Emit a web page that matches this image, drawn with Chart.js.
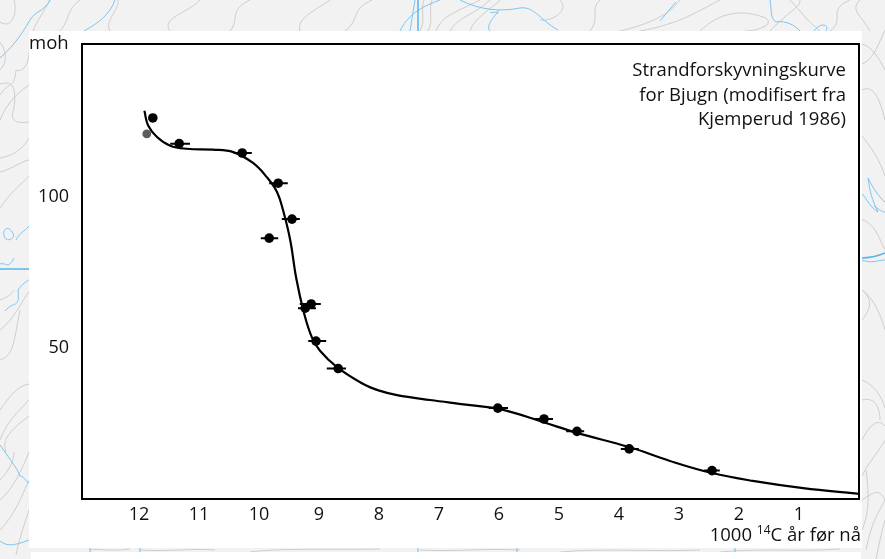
<!DOCTYPE html>
<html>
<head>
<meta charset="utf-8">
<title>Strandforskyvningskurve for Bjugn</title>
<script src="https://cdn.jsdelivr.net/npm/chart.js@4"></script>
<style>
  html, body { margin: 0; padding: 0; background: #f2f2f2; }
  #wrap { position: relative; width: 885px; height: 559px; overflow: hidden; }
  #map { position: absolute; left: 0; top: 0; }
  #panel { position: absolute; left: 29px; top: 31px; width: 833px; height: 517px; background: #fff; }
  #panel2 { position: absolute; left: 31px; top: 552px; width: 830px; height: 7px; background: #fff; }
  #myChart { position: absolute; left: 0; top: 0; }
</style>
</head>
<body>
<div id="wrap">
  <!-- map behind the white panel, only the edges show -->
  <svg id="map" width="885" height="559" fill="none" stroke="#cecece" stroke-width="1">
    <path d="M0 22C12 30 18 12 14 0M36 60C20 40 40 20 50 0M60 31C70 20 66 10 80 0M110 31C104 20 120 10 118 0M170 31C160 18 190 12 200 0M230 31C240 20 228 10 250 0M300 31C296 18 316 10 330 0M345 31C360 20 350 10 372 0"/>
    <path d="M420 31C426 20 420 10 424 0M428 31C434 20 428 10 432 0M436 31C442 16 452 14 480 0M450 31C456 18 476 14 490 0M470 31C474 18 490 10 500 0M540 20C552 22 570 10 560 0M590 31C600 20 590 8 600 0M620 31C650 24 670 14 680 0M640 31C680 24 700 10 720 0M700 31C720 12 740 10 760 16C780 22 760 31 745 31M770 31C790 10 800 8 800 0M820 31C806 20 800 10 790 0M830 31C846 20 826 10 850 0M870 31C860 14 850 10 860 0"/>
    <path d="M0 95C10 80 14 90 16 70C24 74 30 60 29 50M0 120C8 100 22 90 29 85M0 84C14 80 16 88 14 108C10 120 14 124 29 122M0 158C12 156 22 150 29 138M0 172C10 170 24 160 29 160M0 208C14 188 22 184 29 176M0 300C14 294 10 294 14 290M0 330C14 320 22 300 29 292M0 360C14 356 14 340 20 310M0 410C14 390 20 386 29 384M0 440C8 420 16 414 29 400M6 452C2 440 8 432 29 416M0 480C10 470 14 460 14 452M0 500C12 490 22 470 29 452M0 530C14 516 22 496 29 480M16 555C20 535 26 520 29 510M0 70C8 62 6 50 0 42"/>
    <path d="M862 44C872 46 880 60 885 70M862 90C874 84 880 100 885 120M862 136C870 146 880 160 885 176M862 220C874 222 880 240 885 250M862 290C876 300 882 320 885 330M862 320C870 310 874 300 862 290M862 380C876 386 882 398 885 408M862 400C876 396 880 410 880 420M862 440C872 420 880 420 885 426M862 476C870 460 880 450 885 440M862 500C876 490 880 490 885 500M866 550C872 520 880 510 885 500M862 530C868 516 870 500 866 470M862 64C874 60 880 40 885 30M876 559C880 540 882 530 885 520"/>
    <path d="M90 550C96 548 110 552 130 549M140 550C170 552 190 548 215 550M250 552C280 548 320 550 380 549M420 550C460 552 480 548 520 550M560 552C600 548 660 552 700 550M720 552C760 548 800 552 840 549"/>
    <g stroke="#7cc6f2">
      <path d="M0 58C16 44 24 30 30 20C36 10 44 12 50 0M84 31C100 22 110 14 115 0M0 445C12 462 18 470 20 476C24 476 26 482 29 483M0 541C8 548 18 544 29 540M16 240C20 232 24 232 29 226M4 236C2 228 10 224 14 236C12 240 6 242 4 236M5 311C14 300 20 310 18 290C22 284 28 280 29 280M0 264C6 262 8 270 14 258M860 192C866 196 868 206 878 212C872 200 870 192 868 178C874 190 880 198 885 202M874 206C880 210 882 212 885 212"/>
      <path d="M460 0C480 10 500 12 520 8C534 6 540 20 558 30M400 31C410 10 430 4 440 0M490 31C484 24 500 12 498 10M490 12C494 14 498 10 498 14M415 0L410 31M660 21L676 2M770 0C772 12 770 18 776 22C786 20 796 26 800 31M814 31C820 22 830 24 826 31"/>
      <path d="M418 0V31M0 269H29M862 258C872 258 878 256 885 253" stroke="#58b5ee" stroke-width="1.5"/>
      <path d="M862 260C872 264 878 260 885 260" stroke-width="1"/>
      <path d="M90 548V552M140 548V552M418 548V552M517 548V552M735 548V552" stroke-width="1.2"/>
    </g>
  </svg>
  <div id="panel"></div>
  <div id="panel2"></div>
  <canvas id="myChart" width="885" height="559"></canvas>
</div>
<script>
// 1000 14C years before present, metres above sea level
const curveAge = [11.91, 11.85, 11.70, 11.48, 11.20, 10.77, 10.43, 10.10, 9.87, 9.70, 9.60, 9.48, 9.38, 9.25, 9.12, 8.98, 8.70, 8.27, 7.98, 7.70, 7.15, 6.48, 5.93, 5.27, 4.70, 3.83, 3.15, 2.45, 1.77, 0.93, 0];
const curveHeight = [128.6, 123.8, 119.9, 117.0, 116.0, 115.7, 114.9, 111.3, 106.6, 101.7, 95.7, 85.8, 73.2, 61.6, 53.6, 49.0, 43.7, 38.2, 35.8, 34.4, 32.8, 31.1, 29.5, 25.5, 21.9, 17.2, 12.6, 8.6, 6.0, 3.6, 1.7];

const pointAge = [11.77, 11.33, 10.28, 9.68, 9.45, 9.83, 9.13, 9.23, 9.05, 8.68, 6.02, 5.25, 4.70, 3.83, 2.45];
const pointHeight = [126.2, 117.7, 114.6, 104.6, 92.7, 86.4, 64.6, 63.2, 52.3, 43.2, 30.1, 26.5, 22.4, 16.6, 9.4];
const errOld = [null, 11.48, 10.42, 9.83, 9.62, 9.97, 9.32, 9.35, 9.18, 8.87, 6.17, 5.40, 4.88, 3.97, 2.58];
const errYoung = [null, 11.15, 10.12, 9.52, 9.32, 9.68, 8.97, 9.05, 8.88, 8.55, 5.85, 5.10, 4.58, 3.67, 2.32];

const greyAge = [11.87];
const greyHeight = [120.9];

const xTicks = [12, 11, 10, 9, 8, 7, 6, 5, 4, 3, 2, 1];
const yTicks = [50, 100];

const yTitle = "moh";
const xTitleParts = ["1000 ", "14", "C år før nå"];
const noteLines = ["Strandforskyvningskurve", "for Bjugn (modifisert fra", "Kjemperud 1986)"];

const FONT = '"Open Sans", sans-serif';

const errorData = [];
pointAge.forEach((_, i) => {
  if (errOld[i] === null) return;
  errorData.push({x: errOld[i], y: pointHeight[i]});
  errorData.push({x: errYoung[i], y: pointHeight[i]});
  errorData.push({x: NaN, y: NaN}); // break between the bars
});

const frameAndText = {
  id: "frameAndText",
  afterDatasetsDraw(chart) {
    const {ctx, chartArea: a} = chart;
    ctx.save();
    ctx.strokeStyle = "#000";
    ctx.lineWidth = 2;
    ctx.strokeRect(a.left, a.top, a.right - a.left, a.bottom - a.top);

    ctx.fillStyle = "#111";
    ctx.font = "18.5px " + FONT;
    ctx.textBaseline = "middle";
    ctx.textAlign = "left";
    ctx.fillText(yTitle, a.left - 53, a.top);

    // x title, the 14 is set as a superscript
    const bigW = ctx.measureText(xTitleParts[0]).width;
    const endW = ctx.measureText(xTitleParts[2]).width;
    ctx.font = "12px " + FONT;
    const supW = ctx.measureText(xTitleParts[1]).width;
    let tx = a.right + 2 - bigW - supW - endW;
    const ty = a.bottom + 37;
    ctx.font = "18.5px " + FONT;
    ctx.fillText(xTitleParts[0], tx, ty);
    tx += bigW;
    ctx.font = "12px " + FONT;
    ctx.fillText(xTitleParts[1], tx, ty - 5);
    tx += supW;
    ctx.font = "18.5px " + FONT;
    ctx.fillText(xTitleParts[2], tx, ty);

    ctx.textAlign = "right";
    noteLines.forEach((line, i) => {
      ctx.fillText(line, a.right - 13, a.top + 27 + i * 24.5);
    });
    ctx.restore();
  }
};

const chart = new Chart("myChart", {
  type: "scatter",
  data: {
    datasets: [
      {
        label: "Dateringer",
        data: pointAge.map((x, i) => ({x: x, y: pointHeight[i]})),
        backgroundColor: "#000",
        borderWidth: 0,
        pointRadius: 4.8
      },
      {
        label: "Usikker datering",
        data: greyAge.map((x, i) => ({x: x, y: greyHeight[i]})),
        backgroundColor: "#5c5c5c",
        borderWidth: 0,
        pointRadius: 4.4
      },
      {
        label: "Feilmargin",
        data: errorData,
        showLine: true,
        spanGaps: false,
        borderColor: "#000",
        borderWidth: 2,
        pointRadius: 0
      },
      {
        label: "Strandforskyvningskurve",
        data: curveAge.map((x, i) => ({x: x, y: curveHeight[i]})),
        showLine: true,
        borderColor: "#000",
        borderWidth: 2.2,
        tension: 0.4,
        pointRadius: 0
      }
    ]
  },
  options: {
    responsive: false,
    animation: false,
    layout: {padding: {top: 44, right: 26, left: 0, bottom: 0}},
    plugins: {legend: {display: false}, tooltip: {enabled: false}},
    scales: {
      x: {
        type: "linear",
        reverse: true,
        min: 0,
        max: 12.95,
        afterBuildTicks: scale => { scale.ticks = xTicks.map(v => ({value: v})); },
        afterFit: scale => { scale.height = 60; },
        grid: {display: false, drawTicks: false},
        border: {display: false},
        ticks: {
          autoSkip: false,
          maxRotation: 0,
          padding: 5,
          color: "#111",
          font: {family: FONT, size: 18}
        }
      },
      y: {
        type: "linear",
        min: 0,
        max: 150.7,
        afterBuildTicks: scale => { scale.ticks = yTicks.map(v => ({value: v})); },
        afterFit: scale => { scale.width = 82; },
        grid: {display: false, drawTicks: false},
        border: {display: false},
        ticks: {
          padding: 13,
          color: "#111",
          font: {family: FONT, size: 18}
        }
      }
    }
  },
  plugins: [frameAndText]
});
</script>
</body>
</html>
